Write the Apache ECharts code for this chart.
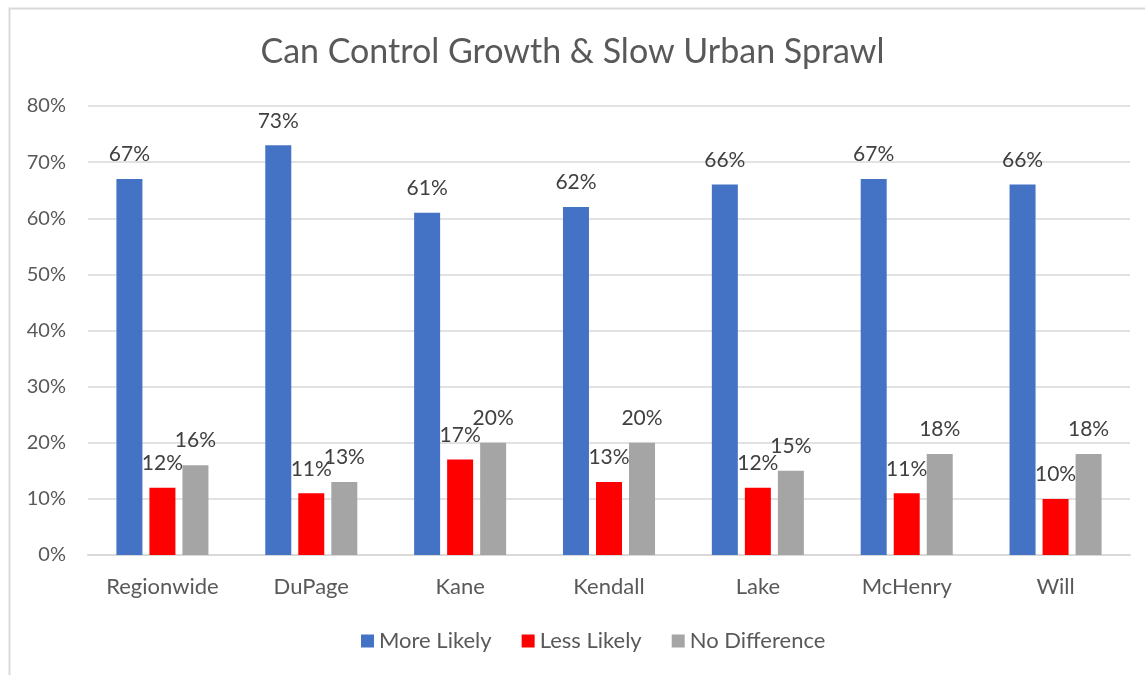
<!DOCTYPE html>
<html>
<head>
<meta charset="utf-8">
<script src="https://cdn.jsdelivr.net/npm/echarts@6/dist/echarts.min.js"></script>
<style>
  html, body { margin: 0; padding: 0; background: #fff; }
  #chart { width: 1145px; height: 675px; }
</style>
</head>
<body>
<div id="chart"></div>
<script>
var categories = ['Regionwide', 'DuPage', 'Kane', 'Kendall', 'Lake', 'McHenry', 'Will'];
var moreLikely = [67, 73, 61, 62, 66, 67, 66];
var lessLikely = [12, 11, 17, 13, 12, 11, 10];
var noDifference = [16, 13, 20, 20, 15, 18, 18];

var font = 'Lato, "Liberation Sans", sans-serif';
var textColor = '#595959';

function barSeries(name, data, color) {
    return {
        name: name,
        type: 'bar',
        data: data,
        barWidth: 26,
        barGap: '27%',
        itemStyle: { color: color },
        label: {
            show: true,
            position: 'top',
            distance: 14,
            formatter: '{c}%',
            color: '#404040',
            fontSize: 21,
            fontFamily: font
        }
    };
}

var myChart = echarts.init(document.getElementById('chart'));
myChart.setOption({
    animation: false,
    graphic: [{
        type: 'rect',
        left: 7,
        top: 6,
        shape: { width: 1160, height: 690 },
        style: { fill: 'none', stroke: '#d9d9d9', lineWidth: 2 },
        z: -1
    }],
    title: {
        text: 'Can Control Growth & Slow Urban Sprawl',
        left: 'center',
        top: 30,
        textStyle: { color: textColor, fontSize: 34, fontWeight: 'normal', fontFamily: font }
    },
    legend: {
        data: ['More Likely', 'Less Likely', 'No Difference'],
        bottom: 18,
        left: 356,
        icon: 'rect',
        itemWidth: 13,
        itemHeight: 13,
        itemGap: 30,
        textStyle: { color: textColor, fontSize: 22, fontFamily: font }
    },
    grid: { left: 88, right: 15, top: 106, bottom: 120 },
    xAxis: {
        type: 'category',
        data: categories,
        axisTick: { show: false },
        axisLine: { lineStyle: { color: '#d9d9d9', width: 2 } },
        axisLabel: { color: textColor, fontSize: 22, fontFamily: font, margin: 21 }
    },
    yAxis: {
        type: 'value',
        min: 0,
        max: 80,
        interval: 10,
        axisLabel: { formatter: '{value}%', color: textColor, fontSize: 20, fontFamily: font, margin: 22 },
        splitLine: { lineStyle: { color: '#d9d9d9', width: 1.5 } }
    },
    series: [
        barSeries('More Likely', moreLikely, '#4472C4'),
        barSeries('Less Likely', lessLikely, '#FF0000'),
        barSeries('No Difference', noDifference, '#A5A5A5')
    ]
});
</script>
</body>
</html>
